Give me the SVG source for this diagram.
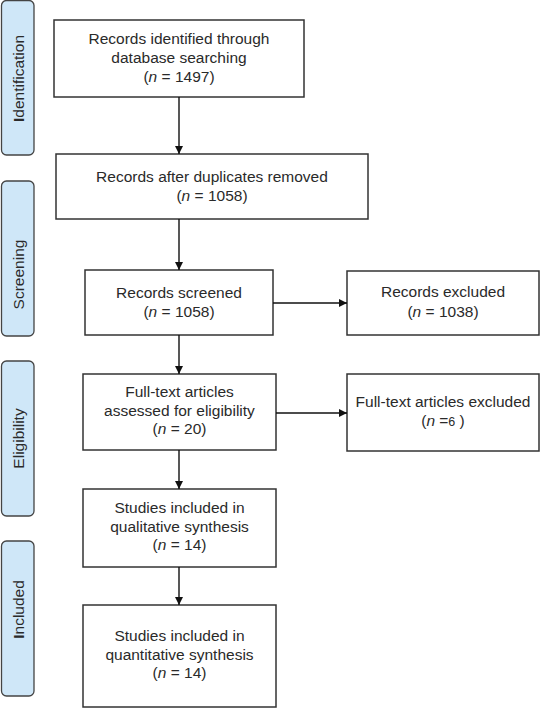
<svg xmlns="http://www.w3.org/2000/svg" width="540" height="709" viewBox="0 0 540 709">
<defs>
<style>
.side{fill:#cfe7f8;stroke:#444;stroke-width:1.3}
.box{fill:#fff;stroke:#333;stroke-width:1.5}
text{font-family:"Liberation Sans",Arial,sans-serif;font-size:15.5px;fill:#2a2a2a;text-anchor:middle}
.conn{stroke:#111;stroke-width:1.4;fill:none;marker-end:url(#ah)}
</style>
<marker id="ah" viewBox="0 0 10 10" refX="10" refY="5" markerWidth="8" markerHeight="8" markerUnits="userSpaceOnUse" orient="auto">
<path d="M0,0 L10,5 L0,10 z" fill="#111"/>
</marker>
</defs>
<rect width="540" height="709" fill="#fff"/>
<g id="stage-identification">
<rect class="side" x="1.5" y="0.5" width="32.5" height="154.5" rx="5"/>
<text transform="translate(23.5,78.5) rotate(-90)"><tspan font-weight="bold">I</tspan>dentification</text>
</g>
<g id="stage-screening">
<rect class="side" x="1.5" y="181" width="32.5" height="155" rx="5"/>
<text transform="translate(23.5,274.5) rotate(-90)">Screening</text>
</g>
<g id="stage-eligibility">
<rect class="side" x="1.5" y="361" width="32.5" height="155" rx="5"/>
<text transform="translate(23.5,438.5) rotate(-90)">Eligibility</text>
</g>
<g id="stage-included">
<rect class="side" x="1.5" y="541" width="32.5" height="155" rx="5"/>
<text transform="translate(23.5,609.5) rotate(-90)"><tspan font-weight="bold">I</tspan>ncluded</text>
</g>
<g id="n1">
<rect class="box" x="54" y="20" width="250" height="77"/>
<text x="179" y="44">Records identified through</text>
<text x="179" y="63">database searching</text>
<text x="179" y="82">(<tspan font-style="italic">n</tspan> = 1497)</text>
</g>
<g id="n2">
<rect class="box" x="56" y="154" width="312" height="65"/>
<text x="212" y="182">Records after duplicates removed</text>
<text x="212" y="201">(<tspan font-style="italic">n</tspan> = 1058)</text>
</g>
<g id="n3">
<rect class="box" x="85" y="270" width="188" height="65"/>
<text x="179" y="298">Records screened</text>
<text x="179" y="317">(<tspan font-style="italic">n</tspan> = 1058)</text>
</g>
<g id="n4">
<rect class="box" x="347" y="271" width="192" height="64"/>
<text x="443" y="297">Records excluded</text>
<text x="443" y="317">(<tspan font-style="italic">n</tspan> = 1038)</text>
</g>
<g id="n5">
<rect class="box" x="83" y="374" width="193" height="76"/>
<text x="179.5" y="397">Full-text articles</text>
<text x="179.5" y="415.5">assessed for eligibility</text>
<text x="179.5" y="434">(<tspan font-style="italic">n</tspan> = 20)</text>
</g>
<g id="n6">
<rect class="box" x="347" y="374" width="192" height="77"/>
<text x="443" y="407">Full-text articles excluded</text>
<text x="443" y="426">(<tspan font-style="italic">n</tspan> =<tspan font-size="12.5px">6</tspan> )</text>
</g>
<g id="n7">
<rect class="box" x="83" y="489" width="193" height="78"/>
<text x="179.5" y="513">Studies included in</text>
<text x="179.5" y="531.5">qualitative synthesis</text>
<text x="179.5" y="550">(<tspan font-style="italic">n</tspan> = 14)</text>
</g>
<g id="n8">
<rect class="box" x="83" y="605" width="193" height="102"/>
<text x="179.5" y="641">Studies included in</text>
<text x="179.5" y="659.5">quantitative synthesis</text>
<text x="179.5" y="678">(<tspan font-style="italic">n</tspan> = 14)</text>
</g>
<g id="connectors">
<line class="conn" x1="179" y1="97" x2="179" y2="154"/>
<line class="conn" x1="179" y1="219" x2="179" y2="270"/>
<line class="conn" x1="179" y1="335" x2="179" y2="374"/>
<line class="conn" x1="179" y1="450" x2="179" y2="489"/>
<line class="conn" x1="179" y1="567" x2="179" y2="605"/>
<line class="conn" x1="273" y1="303" x2="347" y2="303"/>
<line class="conn" x1="276" y1="413" x2="347" y2="413"/>
</g>
</svg>
